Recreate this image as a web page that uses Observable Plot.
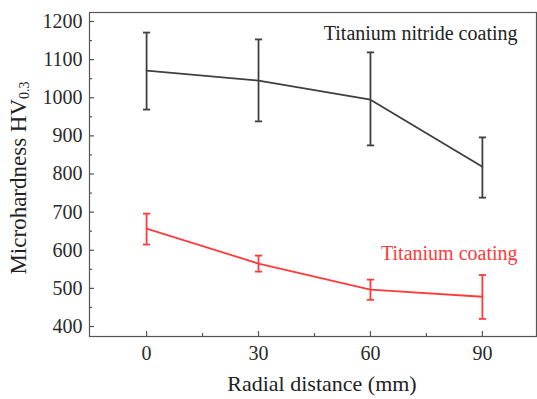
<!DOCTYPE html>
<html><head><meta charset="utf-8">
<script src="https://cdn.jsdelivr.net/npm/d3@7"></script>
<script src="https://cdn.jsdelivr.net/npm/@observablehq/plot@0.6"></script>
<style>body{margin:0;background:#fff} svg text{font-family:'Liberation Serif','Times New Roman',serif}</style>
</head><body><div id="chart"></div>
<script>
const distances = [0, 30, 60, 90];
const nitrideMean = [1071, 1045, 995, 819];
const nitrideLow = [969, 938, 875, 738];
const nitrideHigh = [1171, 1153, 1119, 896];
const titaniumMean = [657, 565, 497, 478];
const titaniumLow = [615, 544, 470, 420];
const titaniumHigh = [696, 586, 523, 535];
const yTicks = [400, 500, 600, 700, 800, 900, 1000, 1100, 1200];
const yMinor = [450, 550, 650, 750, 850, 950, 1050, 1150];
const xTicks = [0, 30, 60, 90];
const xMinor = [15, 45, 75];

const BLACK = "#3f3f3f", RED = "#ff3a3a", AXIS = "#555";
const rows = (mean, lo, hi) => distances.map((d, i) => ({x: d, y: mean[i], lo: lo[i], hi: hi[i]}));
const nit = rows(nitrideMean, nitrideLow, nitrideHigh);
const tit = rows(titaniumMean, titaniumLow, titaniumHigh);
const capSymbol = {draw(ctx, size) { const r = Math.sqrt(size / Math.PI); ctx.moveTo(-r, 0); ctx.lineTo(r, 0); }};

function series(data, color) {
  return [
    Plot.ruleX(data, {x: "x", y1: "lo", y2: "hi", stroke: color, strokeWidth: 1.8}),
    Plot.dot(data, {x: "x", y: "lo", symbol: capSymbol, r: 3.6, stroke: color, strokeWidth: 1.8}),
    Plot.dot(data, {x: "x", y: "hi", symbol: capSymbol, r: 3.6, stroke: color, strokeWidth: 1.8}),
    Plot.line(data, {x: "x", y: "y", stroke: color, strokeWidth: 1.8})
  ];
}

const plot = Plot.plot({
  width: 537, height: 399,
  marginTop: 12, marginRight: 1, marginBottom: 63, marginLeft: 89,
  style: {fontFamily: "'Liberation Serif', 'Times New Roman', serif", fontSize: "20px", color: "#222", background: "#fff"},
  x: {domain: [-15.3, 104.5]},
  y: {domain: [373.8, 1223.6]},
  marks: [
    Plot.frame({stroke: AXIS, strokeWidth: 1.2}),
    Plot.axisY(yTicks, {tickSize: 5, dx: 5, text: null, label: null, stroke: AXIS, strokeWidth: 1.2}),
    Plot.axisY(yMinor, {tickSize: 3, dx: 3, text: null, label: null, stroke: AXIS, strokeWidth: 1.2}),
    Plot.axisY(yTicks, {tickSize: 0, tickPadding: 7, tickFormat: "d", fontSize: 20, fill: "#2a2a2a", label: null}),
    Plot.axisX(xTicks, {tickSize: 5, dy: -5, text: null, label: null, stroke: AXIS, strokeWidth: 1.2}),
    Plot.axisX(xMinor, {tickSize: 3, dy: -3, text: null, label: null, stroke: AXIS, strokeWidth: 1.2}),
    Plot.axisX(xTicks, {tickSize: 0, tickPadding: 9, tickFormat: "d", fontSize: 20, fill: "#2a2a2a", label: null}),
    ...series(nit, BLACK),
    ...series(tit, RED),
    Plot.text(["Titanium nitride coating"], {frameAnchor: "top-right", dx: -19, dy: 21, lineAnchor: "middle", textAnchor: "end", fontSize: 20, fill: "#222"}),
    Plot.text(["Titanium coating"], {frameAnchor: "right", dx: -19, dy: 79, lineAnchor: "middle", textAnchor: "end", fontSize: 20, fill: RED})
  ]
});

const svg = d3.select(plot);
svg.append("text")
  .attr("x", 322).attr("y", 386)
  .attr("text-anchor", "middle").attr("dominant-baseline", "middle")
  .attr("font-size", 22).attr("fill", "#222")
  .text("Radial distance (mm)");
const yl = svg.append("text")
  .attr("transform", "translate(21,178) rotate(-90)")
  .attr("text-anchor", "middle").attr("dominant-baseline", "middle")
  .attr("font-size", 23).attr("fill", "#222");
yl.append("tspan").text("Microhardness HV");
yl.append("tspan").attr("font-size", 14).attr("dy", 5).text("0.3");

document.getElementById("chart").appendChild(plot);
</script>
</body></html>
